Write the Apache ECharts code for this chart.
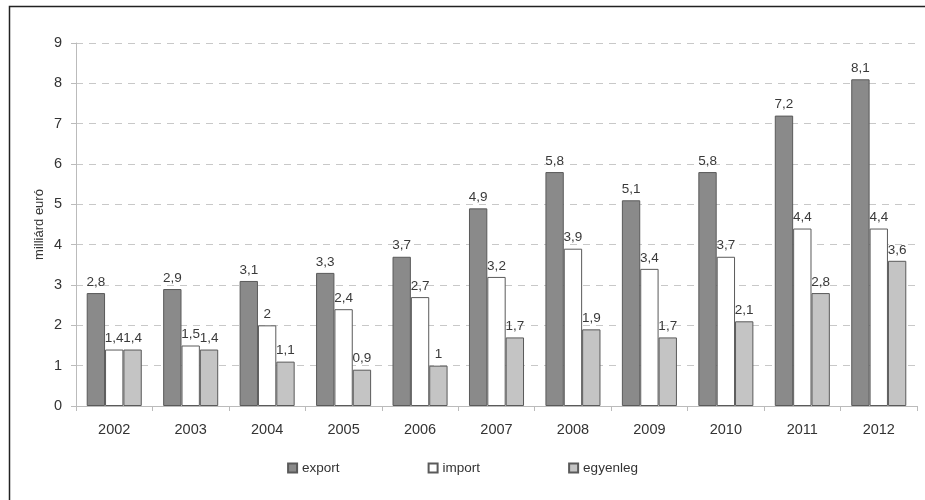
<!DOCTYPE html>
<html><head><meta charset="utf-8">
<script src="https://cdn.jsdelivr.net/npm/echarts@6/dist/echarts.min.js"></script>
<style>html,body{margin:0;padding:0;background:#fff}#c{width:925px;height:500px}</style>
</head><body><div id="c"></div>
<script>
const years = ['2002','2003','2004','2005','2006','2007','2008','2009','2010','2011','2012'];
const exportVals = [2.8,2.9,3.1,3.3,3.7,4.9,5.8,5.1,5.8,7.2,8.1];
const importVals = [1.4,1.5,2,2.4,2.7,3.2,3.9,3.4,3.7,4.4,4.4];
const balanceVals = [1.4,1.4,1.1,0.9,1,1.7,1.9,1.7,2.1,2.8,3.6];
const seriesNames = ['export','import','egyenleg'];

const fmt = p => String(p.value).replace('.', ',');
const lbl = {show:true, position:'top', color:'#3a3a3a', fontSize:13.5, fontFamily:'Liberation Sans, Arial', formatter: fmt, distance:4};
function mk(name, data, color){
  return {name, type:'bar', data, barGap:'0%', barCategoryGap:'28%',
    itemStyle:{color, borderColor:'#5a5a5a', borderWidth:1},
    label: lbl};
}
const chart = echarts.init(document.getElementById('c'));
chart.setOption({
  animation:false,
  textStyle:{fontFamily:'Liberation Sans, Arial'},
  graphic:[{type:'rect', shape:{x:9.5,y:6.5,width:930,height:500}, style:{fill:'none', stroke:'#222', lineWidth:1.5}}],
  grid:{left:76, right:8, top:43, bottom:94},
  legend:{bottom:20, left:'center', itemWidth:9, itemHeight:9, itemGap:88, icon:'rect',
    textStyle:{color:'#333', fontSize:13.5}, data:seriesNames},
  xAxis:{type:'category', data:years, boundaryGap:true,
    axisLine:{lineStyle:{color:'#bbb'}}, axisTick:{show:true, length:5, lineStyle:{color:'#bbb'}},
    axisLabel:{color:'#333', fontSize:14.5, margin:16}},
  yAxis:{type:'value', min:0, max:9, interval:1, name:'milliárd euró', nameLocation:'middle', nameGap:30, nameMoveOverlap:false,
    nameTextStyle:{color:'#333', fontSize:13},
    axisLine:{show:true, lineStyle:{color:'#bbb'}}, axisTick:{show:true, length:5, lineStyle:{color:'#bbb'}},
    axisLabel:{color:'#333', fontSize:14.5, margin:14},
    splitLine:{lineStyle:{color:'#c8c8c8', type:[7,6]}}},
  series:[mk(seriesNames[0], exportVals, '#8a8a8a'), mk(seriesNames[1], importVals, '#ffffff'), mk(seriesNames[2], balanceVals, '#c4c4c4')]
});
</script></body></html>
